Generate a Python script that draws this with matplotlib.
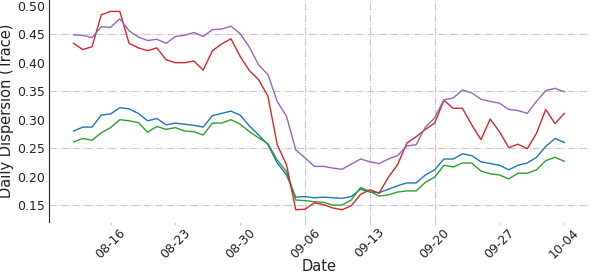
import numpy as np
import pandas as pd
import matplotlib
matplotlib.use("Agg")
import matplotlib.pyplot as plt
import matplotlib.dates as mdates

dates = pd.date_range("2021-08-12", "2021-10-04", freq="D")

blue = [0.280, 0.287, 0.287, 0.308, 0.310, 0.321, 0.319, 0.311, 0.298, 0.302,
        0.291, 0.294, 0.292, 0.290, 0.287, 0.307, 0.311, 0.315, 0.308, 0.289,
        0.273, 0.256, 0.224, 0.203, 0.164, 0.165, 0.163, 0.164, 0.163, 0.162,
        0.165, 0.178, 0.173, 0.172, 0.178, 0.184, 0.189, 0.189, 0.203, 0.212,
        0.231, 0.231, 0.240, 0.237, 0.226, 0.223, 0.220, 0.212, 0.220, 0.224,
        0.234, 0.253, 0.267, 0.260]
green = [0.261, 0.267, 0.264, 0.277, 0.286, 0.300, 0.298, 0.295, 0.278, 0.288,
         0.283, 0.286, 0.280, 0.279, 0.273, 0.294, 0.294, 0.300, 0.292, 0.279,
         0.268, 0.258, 0.229, 0.209, 0.159, 0.158, 0.156, 0.155, 0.150, 0.150,
         0.159, 0.181, 0.174, 0.166, 0.168, 0.173, 0.175, 0.175, 0.190, 0.199,
         0.220, 0.217, 0.224, 0.224, 0.210, 0.205, 0.203, 0.196, 0.206, 0.206,
         0.212, 0.228, 0.234, 0.227]
red = [0.434, 0.423, 0.428, 0.484, 0.490, 0.490, 0.434, 0.426, 0.421, 0.426,
       0.405, 0.400, 0.400, 0.403, 0.387, 0.421, 0.433, 0.442, 0.411, 0.386,
       0.370, 0.341, 0.256, 0.221, 0.142, 0.143, 0.154, 0.151, 0.145, 0.142,
       0.149, 0.169, 0.177, 0.171, 0.199, 0.221, 0.259, 0.270, 0.283, 0.294,
       0.334, 0.320, 0.320, 0.291, 0.265, 0.301, 0.279, 0.251, 0.257, 0.249,
       0.276, 0.318, 0.293, 0.311]
purple = [0.449, 0.448, 0.444, 0.463, 0.462, 0.477, 0.456, 0.445, 0.439, 0.441,
          0.434, 0.446, 0.448, 0.453, 0.446, 0.458, 0.459, 0.464, 0.451, 0.427,
          0.396, 0.379, 0.332, 0.306, 0.247, 0.233, 0.218, 0.218, 0.215, 0.213,
          0.222, 0.231, 0.226, 0.223, 0.231, 0.237, 0.254, 0.256, 0.287, 0.303,
          0.335, 0.338, 0.352, 0.347, 0.336, 0.332, 0.329, 0.318, 0.316, 0.311,
          0.332, 0.351, 0.355, 0.349]

yticks = [0.15, 0.20, 0.25, 0.30, 0.35, 0.40, 0.45, 0.50]
hgrid = [0.15, 0.25, 0.35, 0.45]
vgrid = ["2021-09-06", "2021-09-13", "2021-09-20"]

fig = plt.figure(figsize=(5.9, 2.72), dpi=100)
ax = fig.add_axes([0.083, 0.185, 0.915, 0.815])

for v in hgrid:
    ax.axhline(v, color="#c8c8c8", lw=0.8, ls="-.", zorder=0)
for d in vgrid:
    ax.axvline(pd.Timestamp(d), color="#c8c8c8", lw=0.8, ls="-.", zorder=0)

ax.plot(dates, blue, color="#1f77b4", lw=1.0)
ax.plot(dates, green, color="#2ca02c", lw=1.0)
ax.plot(dates, red, color="#d62728", lw=1.0)
ax.plot(dates, purple, color="#9467bd", lw=1.0)

ax.set_ylim(0.121, 0.510)
ax.set_yticks(yticks)
ax.xaxis.set_major_locator(mdates.WeekdayLocator(byweekday=mdates.MO))
ax.xaxis.set_major_formatter(mdates.DateFormatter("%m-%d"))
plt.setp(ax.get_xticklabels(), rotation=45, ha="center")

for s in ["top", "right", "bottom"]:
    ax.spines[s].set_visible(False)
ax.spines["left"].set_color("#222222")
ax.tick_params(axis="y", length=0, pad=3, labelsize=9, colors="#222222")
ax.tick_params(axis="x", length=2, width=0.8, pad=1, labelsize=9,
               colors="#222222", color="#cccccc")

ax.set_ylabel("Daily Dispersion (Trace)", fontsize=10.5, color="#222222", labelpad=2)
ax.set_xlabel("Date", fontsize=10.5, color="#222222", labelpad=-1)

fig.savefig("out.png", dpi=100)
